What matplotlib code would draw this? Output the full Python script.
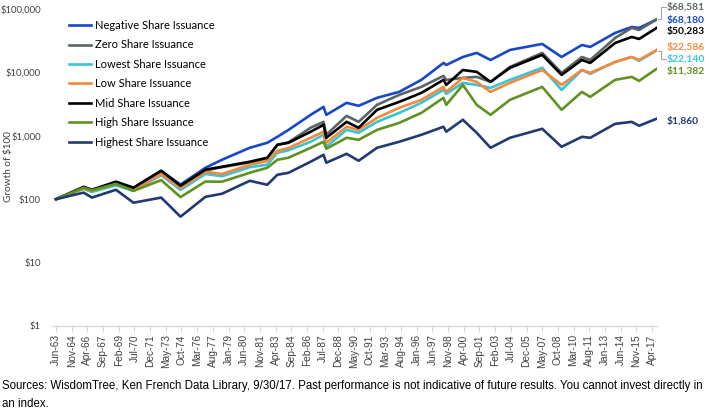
import numpy as np
import matplotlib.pyplot as plt
from matplotlib.lines import Line2D

# monthly index 0 = Jun-63
dates = ["1963-06", "1965-12", "1966-09", "1968-11", "1970-06", "1972-12",
         "1974-09", "1976-12", "1978-06", "1980-12", "1982-07", "1983-06",
         "1984-06", "1986-06", "1987-08", "1987-11", "1989-09", "1990-10",
         "1992-06", "1994-06", "1996-06", "1998-06", "1998-09", "2000-03",
         "2001-06", "2002-09", "2004-06", "2007-05", "2009-02", "2010-12",
         "2011-09", "2013-12", "2015-06", "2016-02", "2017-09"]

negative = [100, 150, 140, 180, 150, 280, 170, 313, 419, 647, 776, 964, 1240,
            2140, 2860, 2140, 3310, 2970, 3970, 4930, 7620, 14100, 13100,
            17500, 20300, 15700, 22600, 28100, 17500, 27100, 25200, 41900,
            52100, 50300, 68180]
zero = [100, 150, 138, 182, 150, 275, 160, 285, 320, 380, 440, 720, 790,
        1340, 1660, 1040, 2065, 1660, 3080, 4420, 5910, 8810, 7620, 8190,
        8500, 7080, 12200, 20300, 9820, 17500, 15700, 34900, 50300, 46700,
        68581]
lowest = [100, 145, 130, 165, 135, 240, 140, 250, 230, 320, 350, 540, 590,
          805, 1040, 671, 1240, 1115, 1660, 2300, 3310, 5300, 4580, 6840,
          6350, 5700, 7620, 11800, 5300, 10900, 9500, 14600, 17500, 15200,
          22140]
low = [100, 148, 135, 175, 140, 250, 150, 270, 250, 349, 400, 580, 640,
       930, 1160, 776, 1390, 1240, 1920, 2760, 3690, 5910, 4930, 8190, 7080,
       4930, 6840, 10900, 6350, 10900, 9820, 14600, 17500, 15700, 22586]
mid = [100, 157, 141, 189, 152, 281, 163, 292, 325, 390, 451, 722, 776,
       1160, 1490, 930, 1660, 1340, 2570, 3430, 4750, 7620, 6350, 10900,
       10200, 7080, 11770, 18900, 9140, 15700, 14100, 29100, 36200, 33700,
       50283]
high = [100, 152, 138, 175, 135, 200, 108, 190, 189, 261, 313, 419, 451,
        647, 805, 624, 930, 865, 1240, 1600, 2300, 3970, 3080, 6350, 3080,
        2140, 3690, 5910, 2570, 4930, 4110, 7620, 8500, 7350, 11382]
highest = [100, 127, 106, 141, 88, 106, 53, 109, 122, 195, 169, 243, 261,
           390, 502, 376, 520, 404, 647, 805, 1037, 1390, 1160, 1790, 1115,
           647, 930, 1290, 671, 964, 930, 1545, 1660, 1440, 1860]

series_names = ["Negative Share Issuance", "Zero Share Issuance",
                "Lowest Share Issuance", "Low Share Issuance",
                "Mid Share Issuance", "High Share Issuance",
                "Highest Share Issuance"]
series_values = [negative, zero, lowest, low, mid, high, highest]
colors = ["#1748c8", "#5b6566", "#36c5d8", "#f5883a", "#000000", "#5f9220",
          "#1f3b70"]

# end labels: text, vertical offset in pixels
end_labels = ["$68,180", "$68,581", "$22,140", "$22,586", "$50,283",
              "$11,382", "$1,860"]
end_offsets = [0, 12, -8, 3, -3, -2, -2]

tick_labels = ["Jun-63", "Nov-64", "Apr-66", "Sep-67", "Feb-69", "Jul-70",
               "Dec-71", "May-73", "Oct-74", "Mar-76", "Aug-77", "Jan-79",
               "Jun-80", "Nov-81", "Apr-83", "Sep-84", "Feb-86", "Jul-87",
               "Dec-88", "May-90", "Oct-91", "Mar-93", "Aug-94", "Jan-96",
               "Jun-97", "Nov-98", "Apr-00", "Sep-01", "Feb-03", "Jul-04",
               "Dec-05", "May-07", "Oct-08", "Mar-10", "Aug-11", "Jan-13",
               "Jun-14", "Nov-15", "Apr-17"]

MONTHS = ["Jan", "Feb", "Mar", "Apr", "May", "Jun", "Jul", "Aug", "Sep",
          "Oct", "Nov", "Dec"]


def date_to_idx(s):
    y, m = s.split("-")
    return (int(y) - 1963) * 12 + int(m) - 6


def label_to_idx(s):
    mon, yy = s.split("-")
    year = int(yy) + (2000 if int(yy) < 50 else 1900)
    return (year - 1963) * 12 + MONTHS.index(mon) + 1 - 6


x = np.array([date_to_idx(d) for d in dates])

W, H = 709, 418
fig = plt.figure(figsize=(W / 100, H / 100), dpi=100)
ax = fig.add_axes([52 / W, 92 / H, 605 / W, 317 / H])

lines = []
for name, vals, c in zip(series_names, series_values, colors):
    ln, = ax.plot(x, vals, color=c, lw=1.9, label=name, solid_joinstyle="round")
    lines.append(ln)

ax.set_yscale("log")
ax.set_ylim(1, 100000)
ax.set_xlim(-4.3, 651.4)

yt = [1, 10, 100, 1000, 10000, 100000]
ax.set_yticks(yt)
ax.set_yticklabels(["$1", "$10", "$100", "$1,000", "$10,000", "$100,000"],
                   fontfamily="Lato", fontsize=6.8, color="#404040")
ax.yaxis.set_minor_locator(plt.NullLocator())
ax.tick_params(axis="y", length=0, pad=8)

ax.set_xticks([label_to_idx(t) for t in tick_labels])
ax.set_xticklabels(tick_labels, rotation=90, fontfamily="Liberation Sans",
                   fontsize=7.3, color="#404040")
ax.tick_params(axis="x", direction="out", length=4, color="#d9d9d9", pad=2)

for s in ["left", "top", "right"]:
    ax.spines[s].set_visible(False)
ax.spines["bottom"].set_color("#d9d9d9")
ax.spines["bottom"].set_linewidth(1.0)

fig.text(9 / W, 1 - 167 / H, "Growth of $100", rotation=90, ha="center",
         va="center", fontfamily="Lato", fontsize=7.2, color="#404040")

leg = ax.legend(handles=lines, loc="upper left",
                bbox_to_anchor=(69 / W, 1 - 20 / H),
                bbox_transform=fig.transFigure, frameon=False,
                prop={"family": "Lato", "size": 8.0}, handlelength=2.0,
                handletextpad=0.3, labelspacing=0.76, borderpad=0,
                borderaxespad=0)

# end labels with leader lines
fig.canvas.draw()
for vals, c, txt, off in zip(series_values, colors, end_labels, end_offsets):
    px, py = ax.transData.transform((x[-1], vals[-1]))
    ax.annotate(txt, xy=(x[-1], vals[-1]), xytext=(10, off),
                textcoords="offset pixels", ha="left", va="center",
                fontfamily="Lato", fontweight="bold", fontsize=7.4, color=c,
                annotation_clip=False)
    if abs(off) > 4:
        fig.add_artist(Line2D([px + 1, px + 4, px + 4, px + 9],
                              [py, py, py + off, py + off],
                              transform=None, color="#a6a6a6", lw=0.8))

fig.text(2 / W, 1 - 386 / H,
         "Sources: WisdomTree, Ken French Data Library, 9/30/17. Past "
         "performance is not indicative of future results. You cannot invest "
         "directly in", ha="left", va="center", fontfamily="Liberation Sans",
         fontsize=8.3, color="#000000")
fig.text(2 / W, 1 - 404 / H, "an index.", ha="left", va="center",
         fontfamily="Liberation Sans", fontsize=8.3, color="#000000")

fig.savefig("out.png", dpi=100)
